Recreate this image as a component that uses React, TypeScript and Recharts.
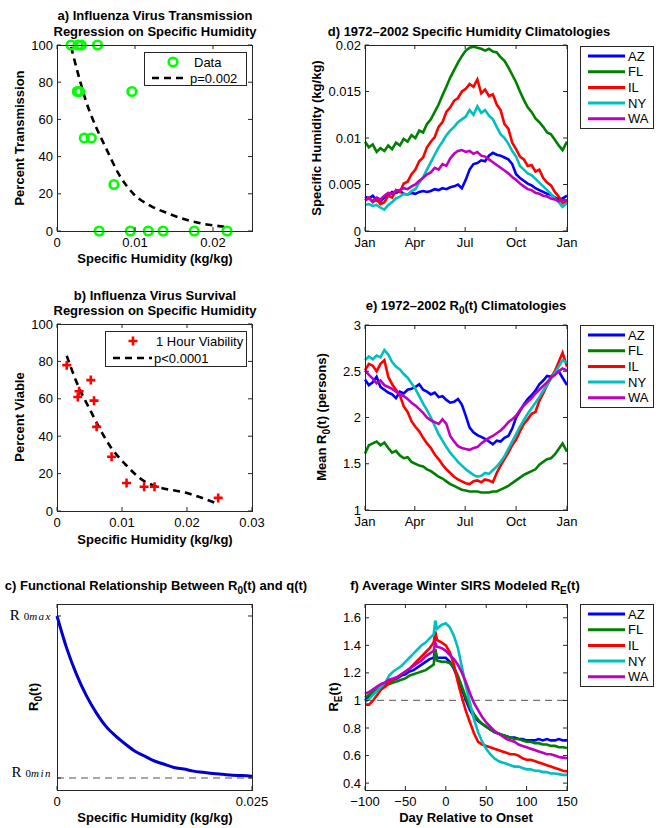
import React from 'react';
import {
  LineChart, ComposedChart, Line, Scatter, XAxis, YAxis, ReferenceLine
} from 'recharts';

// ---- panel a: transmission vs specific humidity ----
const aQ = [0.0018, 0.0027, 0.0031, 0.0052, 0.0026, 0.0029, 0.0096, 0.0035, 0.0044, 0.0073, 0.0054, 0.0094, 0.0117, 0.0136, 0.0176, 0.0218];
const aPct = [100, 100, 100, 100, 75, 75, 75, 50, 50, 25, 0, 0, 0, 0, 0, 0];
const aFitQ = [0.0018, 0.0028, 0.0037, 0.005, 0.0064, 0.008, 0.0098, 0.012, 0.0142, 0.017, 0.0215];
const aFitPct = [99, 83, 70, 56, 43.5, 30, 20, 13.5, 9.5, 5.5, 2.3];

// ---- panel b: survival vs specific humidity ----
const bQ = [0.0015, 0.0032, 0.0034, 0.0052, 0.0057, 0.0061, 0.0084, 0.0107, 0.0134, 0.015, 0.0248];
const bPct = [78, 61, 64, 70, 59, 45, 29, 15, 13, 13, 7];
const bFitQ = [0.0015, 0.003, 0.0051, 0.0083, 0.0105, 0.0134, 0.015, 0.0201, 0.0246];
const bFitPct = [83, 69, 54, 34, 25, 16, 13.5, 9.5, 4];

// ---- panel c: R0 vs q ----
const cQ = [0, 0.00125, 0.0025, 0.00375, 0.005, 0.00625, 0.0075, 0.00875, 0.01, 0.01125, 0.0125,
  0.01375, 0.015, 0.01625, 0.0175, 0.01875, 0.02, 0.02125, 0.0225, 0.02375, 0.025];
const cR = [3.0, 2.6, 2.28, 2.02, 1.81, 1.64, 1.52, 1.42, 1.33, 1.27, 1.21,
  1.17, 1.13, 1.11, 1.085, 1.07, 1.055, 1.045, 1.035, 1.03, 1.022];

// ---- panels d/e: daily climatologies (sampled weekly) ----
const dDays = [0, 7, 14, 21, 28, 35, 42, 49, 56, 63, 70, 77, 84, 91, 98, 105, 112, 119, 126, 133,
  140, 147, 154, 161, 168, 175, 182, 189, 196, 203, 210, 217, 224, 231, 238, 245, 252, 259, 266, 273,
  280, 287, 294, 301, 308, 315, 322, 329, 336, 343, 350, 357, 365];
const monthTicks = [0, 90, 181, 273, 365];
const monthNames = ['Jan', 'Apr', 'Jul', 'Oct', 'Jan'];

const qAZ = [0.0037, 0.0035, 0.0038, 0.0033, 0.0032, 0.0036, 0.0038, 0.0042, 0.0041, 0.0043,
  0.0040, 0.0039, 0.0041, 0.0040, 0.0042, 0.0043, 0.0042, 0.0043, 0.0045, 0.0044,
  0.0046, 0.0045, 0.0047, 0.0048, 0.0050, 0.0046, 0.0055, 0.0066, 0.0072, 0.0073,
  0.0076, 0.0075, 0.0081, 0.0084, 0.0082, 0.0081, 0.0079, 0.0077, 0.0072, 0.0061,
  0.0057, 0.0054, 0.0051, 0.0049, 0.0046, 0.0044, 0.0042, 0.0040, 0.0039, 0.0036,
  0.0034, 0.0035, 0.0038];
const qFL = [0.0096, 0.0090, 0.0093, 0.0085, 0.0089, 0.0086, 0.0092, 0.0088, 0.0095, 0.0092,
  0.0099, 0.0096, 0.0103, 0.0100, 0.0108, 0.0106, 0.0115, 0.0120, 0.0128, 0.0136,
  0.0146, 0.0155, 0.0165, 0.0173, 0.0181, 0.0188, 0.0194, 0.0197, 0.0198, 0.0197,
  0.0196, 0.0194, 0.0196, 0.0193, 0.0192, 0.0187, 0.0183, 0.0176, 0.0168, 0.0160,
  0.0150, 0.0141, 0.0133, 0.0128, 0.0121, 0.0117, 0.0112, 0.0106, 0.0104, 0.0098,
  0.0092, 0.0087, 0.0096];
const qIL = [0.0033, 0.0036, 0.0031, 0.0034, 0.0029, 0.0031, 0.0038, 0.0036, 0.0044, 0.0042,
  0.0051, 0.0053, 0.0061, 0.0066, 0.0075, 0.0079, 0.0090, 0.0096, 0.0101, 0.0112,
  0.0117, 0.0128, 0.0133, 0.0140, 0.0143, 0.0150, 0.0153, 0.0158, 0.0155, 0.0163,
  0.0148, 0.0152, 0.0145, 0.0147, 0.0136, 0.0130, 0.0115, 0.0110, 0.0095, 0.0088,
  0.0080, 0.0077, 0.0070, 0.0071, 0.0064, 0.0066, 0.0057, 0.0052, 0.0049, 0.0042,
  0.0037, 0.0030, 0.0032];
const qNY = [0.0028, 0.0029, 0.0027, 0.0028, 0.0025, 0.0023, 0.0028, 0.0031, 0.0035, 0.0037,
  0.0040, 0.0039, 0.0043, 0.0045, 0.0052, 0.0058, 0.0066, 0.0074, 0.0082, 0.0090,
  0.0096, 0.0103, 0.0108, 0.0112, 0.0117, 0.0120, 0.0123, 0.0130, 0.0125, 0.0134,
  0.0127, 0.0130, 0.0124, 0.0120, 0.0112, 0.0104, 0.0100, 0.0094, 0.0086, 0.0080,
  0.0070, 0.0066, 0.0062, 0.0060, 0.0056, 0.0052, 0.0048, 0.0044, 0.0040, 0.0035,
  0.0031, 0.0026, 0.0030];
const qWA = [0.0033, 0.0035, 0.0032, 0.0036, 0.0034, 0.0038, 0.0041, 0.0040, 0.0043, 0.0044,
  0.0046, 0.0045, 0.0048, 0.0050, 0.0054, 0.0057, 0.0061, 0.0063, 0.0068, 0.0066,
  0.0072, 0.0070, 0.0078, 0.0083, 0.0086, 0.0087, 0.0085, 0.0086, 0.0083, 0.0085,
  0.0081, 0.0080, 0.0077, 0.0074, 0.0071, 0.0068, 0.0065, 0.0062, 0.0058, 0.0055,
  0.0051, 0.0048, 0.0045, 0.0044, 0.0041, 0.0040, 0.0038, 0.0037, 0.0035, 0.0034,
  0.0032, 0.0033, 0.0033];

const rAZ = [2.41, 2.35, 2.38, 2.44, 2.33, 2.30, 2.27, 2.25, 2.21, 2.28,
  2.26, 2.30, 2.31, 2.33, 2.36, 2.30, 2.28, 2.25, 2.27, 2.22,
  2.23, 2.19, 2.16, 2.17, 2.20, 2.14, 2.02, 1.89, 1.84, 1.81,
  1.79, 1.77, 1.74, 1.71, 1.75, 1.74, 1.78, 1.80, 1.88, 2.00,
  2.07, 2.14, 2.20, 2.24, 2.29, 2.36, 2.40, 2.45, 2.44, 2.48,
  2.50, 2.43, 2.35];
const rFL = [1.61, 1.70, 1.72, 1.74, 1.70, 1.73, 1.67, 1.62, 1.64, 1.59,
  1.56, 1.57, 1.52, 1.50, 1.48, 1.47, 1.44, 1.42, 1.39, 1.36,
  1.34, 1.31, 1.28, 1.26, 1.24, 1.22, 1.21, 1.20, 1.20, 1.20,
  1.19, 1.19, 1.19, 1.20, 1.20, 1.22, 1.24, 1.26, 1.29, 1.32,
  1.35, 1.38, 1.40, 1.42, 1.44, 1.49, 1.52, 1.55, 1.56, 1.60,
  1.66, 1.72, 1.63];
const rIL = [2.51, 2.58, 2.56, 2.50, 2.58, 2.62, 2.44, 2.36, 2.30, 2.24,
  2.12, 2.06, 1.96, 1.90, 1.85, 1.78, 1.72, 1.67, 1.60, 1.55,
  1.49, 1.44, 1.40, 1.36, 1.33, 1.31, 1.29, 1.28, 1.31, 1.32,
  1.30, 1.33, 1.32, 1.30, 1.40, 1.48, 1.55, 1.62, 1.70, 1.76,
  1.85, 1.93, 1.98, 2.04, 2.06, 2.18, 2.26, 2.35, 2.43, 2.50,
  2.60, 2.70, 2.55];
const rNY = [2.62, 2.66, 2.63, 2.67, 2.65, 2.73, 2.68, 2.60, 2.55, 2.52,
  2.47, 2.43, 2.37, 2.31, 2.23, 2.15, 2.08, 2.00, 1.91, 1.82,
  1.75, 1.68, 1.62, 1.57, 1.52, 1.48, 1.44, 1.41, 1.38, 1.36,
  1.37, 1.40, 1.39, 1.43, 1.47, 1.52, 1.58, 1.66, 1.74, 1.82,
  1.90, 1.97, 2.04, 2.10, 2.16, 2.22, 2.29, 2.35, 2.42, 2.48,
  2.55, 2.62, 2.59];
const rWA = [2.51, 2.46, 2.42, 2.37, 2.40, 2.35, 2.33, 2.31, 2.28, 2.25,
  2.23, 2.20, 2.16, 2.13, 2.09, 2.05, 2.00, 1.97, 1.95, 1.93,
  1.98, 1.93, 1.80, 1.74, 1.69, 1.67, 1.66, 1.65, 1.67, 1.68,
  1.72, 1.75, 1.78, 1.80, 1.83, 1.86, 1.90, 1.95, 1.98, 2.02,
  2.08, 2.13, 2.17, 2.21, 2.26, 2.30, 2.34, 2.38, 2.43, 2.46,
  2.50, 2.53, 2.51];

// ---- panel f: winter RE(t) ----
const fDays = [-100, -95, -90, -85, -80, -75, -70, -65, -60, -55,
  -50, -45, -40, -35, -30, -25, -20, -15, -13, -11,
  -5, 0, 5, 10, 15, 20, 25, 30, 35, 40,
  45, 50, 55, 60, 65, 70, 75, 80, 85, 90,
  95, 100, 105, 110, 115, 120, 125, 130, 135, 140,
  145, 150];
const eAZ = [1.00, 1.03, 1.05, 1.07, 1.10, 1.11, 1.13, 1.15, 1.16, 1.18,
  1.19, 1.21, 1.22, 1.24, 1.26, 1.28, 1.30, 1.31, 1.37, 1.31,
  1.31, 1.31, 1.28, 1.23, 1.16, 1.08, 1.00, 0.93, 0.88, 0.85,
  0.83, 0.81, 0.79, 0.77, 0.76, 0.75, 0.74, 0.73, 0.73, 0.72,
  0.72, 0.71, 0.71, 0.71, 0.72, 0.71, 0.72, 0.71, 0.71, 0.72,
  0.71, 0.71];
const eFL = [1.02, 1.04, 1.06, 1.08, 1.09, 1.11, 1.12, 1.13, 1.14, 1.15,
  1.16, 1.18, 1.19, 1.20, 1.21, 1.22, 1.24, 1.26, 1.37, 1.29,
  1.28, 1.28, 1.27, 1.24, 1.18, 1.10, 1.02, 0.95, 0.90, 0.86,
  0.83, 0.81, 0.79, 0.77, 0.76, 0.75, 0.74, 0.73, 0.72, 0.72,
  0.71, 0.70, 0.70, 0.69, 0.69, 0.68, 0.68, 0.67, 0.67, 0.66,
  0.66, 0.655];
const eIL = [0.97, 0.97, 1.00, 1.04, 1.08, 1.10, 1.13, 1.15, 1.17, 1.19,
  1.21, 1.23, 1.26, 1.29, 1.32, 1.35, 1.38, 1.42, 1.50, 1.44,
  1.42, 1.40, 1.35, 1.26, 1.13, 1.02, 0.92, 0.84, 0.76, 0.70,
  0.68, 0.67, 0.66, 0.65, 0.64, 0.63, 0.62, 0.61, 0.61, 0.60,
  0.58, 0.57, 0.57, 0.56, 0.55, 0.54, 0.53, 0.52, 0.51, 0.50,
  0.49, 0.485];
const eNY = [0.99, 1.01, 1.04, 1.07, 1.10, 1.13, 1.18, 1.21, 1.23, 1.25,
  1.28, 1.31, 1.34, 1.37, 1.40, 1.42, 1.45, 1.48, 1.58, 1.52,
  1.55, 1.56, 1.53, 1.47, 1.38, 1.24, 1.10, 0.98, 0.86, 0.77,
  0.70, 0.65, 0.61, 0.58, 0.56, 0.55, 0.54, 0.53, 0.52, 0.52,
  0.51, 0.50, 0.50, 0.49, 0.49, 0.48, 0.48, 0.47, 0.47, 0.465,
  0.46, 0.46];
const eWA = [1.05, 1.06, 1.08, 1.10, 1.12, 1.13, 1.15, 1.16, 1.17, 1.19,
  1.21, 1.23, 1.25, 1.27, 1.29, 1.32, 1.34, 1.36, 1.42, 1.39,
  1.38, 1.36, 1.33, 1.30, 1.26, 1.20, 1.13, 1.05, 0.98, 0.93,
  0.88, 0.84, 0.81, 0.78, 0.76, 0.74, 0.72, 0.71, 0.70, 0.68,
  0.67, 0.66, 0.65, 0.64, 0.63, 0.62, 0.61, 0.61, 0.60, 0.59,
  0.585, 0.58];

const STATES = ['AZ', 'FL', 'IL', 'NY', 'WA'];
const COLORS: Record<string, string> = {
  AZ: '#0000ff', FL: '#008000', IL: '#ff0000', NY: '#00bfbf', WA: '#bf00bf',
};

const FONT = '"Liberation Sans", Arial, Helvetica, sans-serif';
const SERIF = '"Liberation Serif", "DejaVu Serif", serif';
const AXIS = '#262626';

// build tables
const pts = (xs: number[], ys: number[]) => xs.map((x, i) => ({ x, y: ys[i] }));
const aData = pts(aQ, aPct);
const aFit = pts(aFitQ, aFitPct);
const bData = pts(bQ, bPct);
const bFit = pts(bFitQ, bFitPct);
const cData = pts(cQ, cR);
const qRows = dDays.map((x, i) => ({ x, AZ: qAZ[i], FL: qFL[i], IL: qIL[i], NY: qNY[i], WA: qWA[i] }));
const rRows = dDays.map((x, i) => ({ x, AZ: rAZ[i], FL: rFL[i], IL: rIL[i], NY: rNY[i], WA: rWA[i] }));
const eRows = fDays.map((x, i) => ({ x, AZ: eAZ[i], FL: eFL[i], IL: eIL[i], NY: eNY[i], WA: eWA[i] }));

// inward MATLAB-style ticks on both sides of the box
const xTick = (plotH: number, fmt: (v: number) => string) => (p: any) => (
  <g>
    <line x1={p.x} x2={p.x} y1={p.y} y2={p.y - 4} stroke={AXIS} />
    <line x1={p.x} x2={p.x} y1={p.y - plotH} y2={p.y - plotH + 4} stroke={AXIS} />
    <text x={p.x} y={p.y + 15.5} textAnchor="middle" fontSize={13} fontFamily={FONT} fill="#000">
      {fmt(p.payload.value)}
    </text>
  </g>
);

const yTick = (plotW: number, fmt: (v: number) => string) => (p: any) => (
  <g>
    <line x1={p.x} x2={p.x + 4} y1={p.y} y2={p.y} stroke={AXIS} />
    <line x1={p.x + plotW - 4} x2={p.x + plotW} y1={p.y} y2={p.y} stroke={AXIS} />
    <text x={p.x - 4} y={p.y + 4.5} textAnchor="end" fontSize={13} fontFamily={FONT} fill="#000">
      {fmt(p.payload.value)}
    </text>
  </g>
);

const cYTick = (plotW: number) => (p: any) => (
  <g>
    <line x1={p.x} x2={p.x + 4} y1={p.y} y2={p.y} stroke={AXIS} />
    <line x1={p.x + plotW - 4} x2={p.x + plotW} y1={p.y} y2={p.y} stroke={AXIS} />
    <text x={p.x - 5} y={p.y + (p.payload.value > 2 ? 4 : -1)} textAnchor="end" fontFamily={SERIF} fill="#000">
      <tspan fontSize={15}>R</tspan>
      <tspan fontSize={11} dx={4}>0</tspan>
      <tspan fontSize={11} fontStyle="italic" letterSpacing={1.5}>{p.payload.value > 2 ? 'max' : 'min'}</tspan>
    </text>
  </g>
);

const str = (v: number) => String(v);
const minus = (v: number) => (v < 0 ? '\u2212' + Math.abs(v) : String(v));
const month = (v: number) => monthNames[monthTicks.indexOf(v)];

const Circle = (p: any) => (
  <circle cx={p.cx} cy={p.cy} r={4.3} fill="none" stroke="#00ff00" strokeWidth={2.6} />
);
const Plus = (p: any) => (
  <path d={`M${p.cx - 4.5},${p.cy}H${p.cx + 4.5}M${p.cx},${p.cy - 4.5}V${p.cy + 4.5}`} stroke="#ff0000" strokeWidth={2.6} />
);

const Txt = ({ x, y, children, bold = true, rotate = false, size = 13 }: any) => (
  <div style={{
    position: 'absolute', left: x, top: y, transform: `translate(-50%,-50%)${rotate ? ' rotate(-90deg)' : ''}`,
    whiteSpace: 'nowrap', fontFamily: FONT, fontSize: size, fontWeight: bold ? 'bold' : 'normal', lineHeight: 1, color: '#000',
  }}>{children}</div>
);

const Sub = ({ children }: any) => (
  <span style={{ fontSize: 10, position: 'relative', top: 4 }}>{children}</span>
);

const StateLegend = ({ left, top }: { left: number; top: number }) => (
  <div style={{ position: 'absolute', left, top, width: 74, height: 83, border: `1px solid ${AXIS}`, boxSizing: 'border-box', background: '#fff' }}>
    <svg width={72} height={81} style={{ display: 'block' }}>
      {STATES.map((s, i) => (
        <g key={s}>
          <line x1={7} x2={44} y1={9 + i * 15.7} y2={9 + i * 15.7} stroke={COLORS[s]} strokeWidth={3} />
          <text x={47} y={9 + i * 15.7 + 4.5} fontSize={13} fontFamily={FONT}>{s}</text>
        </g>
      ))}
    </svg>
  </div>
);

// axes box drawn over each plot area
const Frame = ({ left, top, w, h }: { left: number; top: number; w: number; h: number }) => (
  <div style={{ position: 'absolute', left, top, width: w + 1, height: h + 1, border: `1px solid ${AXIS}`, boxSizing: 'border-box', pointerEvents: 'none' }} />
);

const axisCommon = { tickSize: 0, tickMargin: 0, tickLine: false, axisLine: false, interval: 0 as const };

const PW_L = 195;
const PW_R = 202;
const PH = 186;

const Box = ({ left, top, children }: any) => (
  <div style={{ position: 'absolute', left, top }}>{children}</div>
);

const StateLines = () => STATES.map(s => (
  <Line key={s} dataKey={s} type="linear" stroke={COLORS[s]} strokeWidth={2.6} dot={false} isAnimationActive={false} />
));

export default function App() {
  return (
    <div style={{ position: 'absolute', left: 0, top: 0, width: 660, height: 828, background: '#fff', fontFamily: FONT }}>
      {/* a */}
      <Box left={0} top={0}>
        <ComposedChart width={330} height={275} margin={{ top: 45, left: 56, right: 78, bottom: 43 }}>
          <XAxis type="number" dataKey="x" domain={[0, 0.025]} ticks={[0, 0.01, 0.02]} height={1} {...axisCommon} tick={xTick(PH, str)} />
          <YAxis type="number" dataKey="y" domain={[0, 100]} ticks={[0, 20, 40, 60, 80, 100]} width={1} {...axisCommon} tick={yTick(PW_L, str)} />
          <Line data={aFit} dataKey="y" type="monotone" stroke="#000" strokeWidth={2.6} strokeDasharray="7 5" dot={false} isAnimationActive={false} />
          <Scatter data={aData} shape={Circle} isAnimationActive={false} />
        </ComposedChart>
      </Box>
      {/* b */}
      <Box left={0} top={275}>
        <ComposedChart width={330} height={260} margin={{ top: 49, left: 56, right: 78, bottom: 23 }}>
          <XAxis type="number" dataKey="x" domain={[0, 0.03]} ticks={[0, 0.01, 0.02, 0.03]} height={1} {...axisCommon} tick={xTick(187, str)} />
          <YAxis type="number" dataKey="y" domain={[0, 100]} ticks={[0, 20, 40, 60, 80, 100]} width={1} {...axisCommon} tick={yTick(PW_L, str)} />
          <Line data={bFit} dataKey="y" type="monotone" stroke="#000" strokeWidth={2.6} strokeDasharray="7 5" dot={false} isAnimationActive={false} />
          <Scatter data={bData} shape={Plus} isAnimationActive={false} />
        </ComposedChart>
      </Box>
      {/* c */}
      <Box left={0} top={535}>
        <LineChart width={330} height={293} margin={{ top: 69, left: 56, right: 78, bottom: 37 }}>
          <XAxis type="number" dataKey="x" domain={[0, 0.025]} ticks={[0, 0.025]} height={1} {...axisCommon} tick={xTick(PH, str)} />
          <YAxis type="number" dataKey="y" domain={[0.852, 3.148]} ticks={[1, 3]} width={1} {...axisCommon} tick={cYTick(PW_L)} />
          <ReferenceLine y={1} stroke="#8c8c8c" strokeWidth={1.5} strokeDasharray="7 5" />
          <Line data={cData} dataKey="y" type="monotone" stroke="#0000cc" strokeWidth={3} dot={false} isAnimationActive={false} />
        </LineChart>
      </Box>
      {/* d */}
      <Box left={300} top={0}>
        <LineChart width={360} height={275} data={qRows} margin={{ top: 45, left: 64, right: 93, bottom: 43 }}>
          <XAxis type="number" dataKey="x" domain={[0, 365]} ticks={monthTicks} height={1} {...axisCommon} tick={xTick(PH, month)} />
          <YAxis type="number" domain={[0, 0.02]} ticks={[0, 0.005, 0.01, 0.015, 0.02]} width={1} {...axisCommon} tick={yTick(PW_R, str)} />
          {StateLines()}
        </LineChart>
      </Box>
      {/* e */}
      <Box left={300} top={275}>
        <LineChart width={360} height={260} data={rRows} margin={{ top: 50, left: 64, right: 93, bottom: 24 }}>
          <XAxis type="number" dataKey="x" domain={[0, 365]} ticks={monthTicks} height={1} {...axisCommon} tick={xTick(185, month)} />
          <YAxis type="number" domain={[1, 3]} ticks={[1, 1.5, 2, 2.5, 3]} width={1} {...axisCommon} tick={yTick(PW_R, str)} />
          {StateLines()}
        </LineChart>
      </Box>
      {/* f */}
      <Box left={300} top={535}>
        <LineChart width={360} height={293} data={eRows} margin={{ top: 69, left: 64, right: 93, bottom: 37 }}>
          <XAxis type="number" dataKey="x" domain={[-100, 150]} ticks={[-100, -50, 0, 50, 100, 150]} height={1} {...axisCommon} tick={xTick(PH, minus)} />
          <YAxis type="number" domain={[0.35, 1.7]} ticks={[0.4, 0.6, 0.8, 1, 1.2, 1.4, 1.6]} width={1} {...axisCommon} tick={yTick(PW_R, str)} />
          <ReferenceLine y={1} stroke="#777" strokeWidth={1.2} strokeDasharray="7 5" />
          {StateLines()}
        </LineChart>
      </Box>

      <Frame left={57} top={45} w={PW_L} h={PH} />
      <Frame left={57} top={324} w={PW_L} h={187} />
      <Frame left={57} top={604} w={PW_L} h={PH} />
      <Frame left={365} top={45} w={PW_R} h={PH} />
      <Frame left={365} top={325} w={PW_R} h={185} />
      <Frame left={365} top={604} w={PW_R} h={PH} />

      {/* titles */}
      <Txt x={155} y={15}>a) Influenza Virus Transmission</Txt>
      <Txt x={155} y={31}>Regression on Specific Humidity</Txt>
      <Txt x={155} y={295}>b) Influenza Virus Survival</Txt>
      <Txt x={155} y={310}>Regression on Specific Humidity</Txt>
      <Txt x={156} y={585}>c) Functional Relationship Between R<Sub>0</Sub>(t) and q(t)</Txt>
      <Txt x={469} y={31}>d) 1972–2002 Specific Humidity Climatologies</Txt>
      <Txt x={466} y={305}>e) 1972–2002 R<Sub>0</Sub>(t) Climatologies</Txt>
      <Txt x={465} y={585}>f) Average Winter SIRS Modeled R<Sub>E</Sub>(t)</Txt>

      {/* axis labels */}
      <Txt x={19} y={138} rotate>Percent Transmission</Txt>
      <Txt x={19} y={417} rotate>Percent Viable</Txt>
      <Txt x={33} y={697} rotate>R<Sub>0</Sub>(t)</Txt>
      <Txt x={316} y={138} rotate>Specific Humidity (kg/kg)</Txt>
      <Txt x={321} y={417} rotate>Mean R<Sub>0</Sub>(t) (persons)</Txt>
      <Txt x={333} y={697} rotate>R<Sub>E</Sub>(t)</Txt>
      <Txt x={155} y={258}>Specific Humidity (kg/kg)</Txt>
      <Txt x={155} y={539}>Specific Humidity (kg/kg)</Txt>
      <Txt x={155} y={817}>Specific Humidity (kg/kg)</Txt>
      <Txt x={466} y={817}>Day Relative to Onset</Txt>

      {/* legends */}
      <div style={{ position: 'absolute', left: 144, top: 52, width: 103, height: 34, border: `1px solid ${AXIS}`, boxSizing: 'border-box', background: '#fff' }}>
        <svg width={101} height={32} style={{ display: 'block' }}>
          <circle cx={28} cy={9} r={4.3} fill="none" stroke="#00ff00" strokeWidth={2.6} />
          <text x={49} y={13.5} fontSize={13} fontFamily={FONT}>Data</text>
          <line x1={7} x2={43} y1={25} y2={25} stroke="#000" strokeWidth={2.6} strokeDasharray="7 5" />
          <text x={45} y={29.5} fontSize={13} fontFamily={FONT}>p=0.002</text>
        </svg>
      </div>
      <div style={{ position: 'absolute', left: 105, top: 331, width: 142, height: 36, border: `1px solid ${AXIS}`, boxSizing: 'border-box', background: '#fff' }}>
        <svg width={140} height={34} style={{ display: 'block' }}>
          <path d="M22.5,9H31.5M27,4.5V13.5" stroke="#ff0000" strokeWidth={2.6} />
          <text x={50} y={13.5} fontSize={13} fontFamily={FONT}>1 Hour Viability</text>
          <line x1={7} x2={46} y1={26} y2={26} stroke="#000" strokeWidth={2.6} strokeDasharray="7 5" />
          <text x={48} y={30.5} fontSize={13} fontFamily={FONT}>p&lt;0.0001</text>
        </svg>
      </div>
      <StateLegend left={580} top={46} />
      <StateLegend left={580} top={325} />
      <StateLegend left={580} top={604} />
    </div>
  );
}
